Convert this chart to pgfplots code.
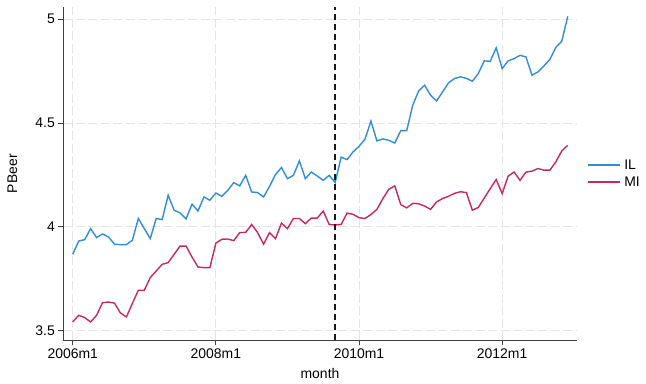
\documentclass[border=0pt]{standalone}
\usepackage{pgfplots}
\pgfplotsset{compat=1.18}
\usepackage{fontspec}
\setmainfont{Liberation Sans}
\definecolor{ilc}{RGB}{50,140,220}
\definecolor{mic}{RGB}{200,40,95}
\begin{document}
\begin{tikzpicture}
\begin{axis}[
  scale only axis, width=513.4bp, height=333.3bp,
  xmin=-1.58, xmax=84.5, ymin=3.4515, ymax=5.059,
  axis lines=left,
  axis line style={-, draw=black!75, line width=0.8bp},
  xtick={0,24,48,72}, xticklabels={2006m1,2008m1,2010m1,2012m1},
  ytick={3.5,4,4.5,5}, yticklabels={3.5,4,4.5,5},
  tick align=outside, major tick length=5bp,
  tick style={black!75, line width=0.8bp},
  grid=major,
  major grid style={dash pattern=on 9bp off 3.5bp, black!10, line width=0.8bp},
  font=\fontsize{14}{16}\selectfont,
  ticklabel style={font=\fontsize{14}{16}\selectfont},
  xlabel={month}, ylabel={PBeer},
  every axis x label/.style={at={(axis description cs:0.5,0)}, anchor=center, yshift=-33bp},
  every axis y label/.style={at={(axis description cs:-0.0993,0.5)}, anchor=center, rotate=90},
  legend style={at={(axis description cs:1.0,0.5)}, anchor=west, draw=none, fill=none,
    font=\fontsize{14}{16}\selectfont, inner sep=0pt, xshift=10bp, row sep=2bp,
    nodes={inner xsep=4bp}},
  legend cell align=left,
  legend image code/.code={\draw[#1] (0bp,0bp) -- (32bp,0bp);},
]
\addplot[ilc, line width=1.4bp] coordinates {
(0,3.866)(1,3.930)(2,3.937)(3,3.990)(4,3.947)(5,3.964)(6,3.950)(7,3.915)(8,3.913)(9,3.913)
(10,3.934)(11,4.039)(12,3.990)(13,3.942)(14,4.039)(15,4.034)(16,4.151)(17,4.079)(18,4.066)(19,4.037)
(20,4.108)(21,4.075)(22,4.143)(23,4.127)(24,4.162)(25,4.146)(26,4.175)(27,4.212)(28,4.196)(29,4.247)
(30,4.167)(31,4.164)(32,4.143)(33,4.194)(34,4.251)(35,4.285)(36,4.231)(37,4.247)(38,4.317)(39,4.231)
(40,4.263)(41,4.244)(42,4.223)(43,4.247)(44,4.212)(45,4.335)(46,4.323)(47,4.360)(48,4.387)(49,4.421)
(50,4.509)(51,4.413)(52,4.423)(53,4.416)(54,4.403)(55,4.463)(56,4.463)(57,4.585)(58,4.654)(59,4.682)
(60,4.633)(61,4.606)(62,4.649)(63,4.693)(64,4.714)(65,4.722)(66,4.715)(67,4.701)(68,4.738)(69,4.799)
(70,4.797)(71,4.862)(72,4.762)(73,4.799)(74,4.810)(75,4.826)(76,4.818)(77,4.730)(78,4.746)(79,4.775)
(80,4.806)(81,4.864)(82,4.894)(83,5.014)
};
\addlegendentry{IL}
\addplot[mic, line width=1.4bp] coordinates {
(0,3.540)(1,3.572)(2,3.561)(3,3.540)(4,3.572)(5,3.633)(6,3.636)(7,3.631)(8,3.583)(9,3.564)
(10,3.629)(11,3.693)(12,3.693)(13,3.754)(14,3.786)(15,3.818)(16,3.826)(17,3.866)(18,3.906)(19,3.906)
(20,3.853)(21,3.805)(22,3.802)(23,3.802)(24,3.920)(25,3.939)(26,3.940)(27,3.932)(28,3.971)(29,3.972)
(30,4.010)(31,3.971)(32,3.915)(33,3.971)(34,3.942)(35,4.017)(36,3.990)(37,4.039)(38,4.039)(39,4.014)
(40,4.041)(41,4.041)(42,4.075)(43,4.010)(44,4.008)(45,4.010)(46,4.065)(47,4.059)(48,4.043)(49,4.039)
(50,4.058)(51,4.083)(52,4.135)(53,4.180)(54,4.196)(55,4.106)(56,4.090)(57,4.112)(58,4.110)(59,4.099)
(60,4.083)(61,4.119)(62,4.135)(63,4.146)(64,4.160)(65,4.168)(66,4.164)(67,4.079)(68,4.092)(69,4.138)
(70,4.183)(71,4.227)(72,4.159)(73,4.243)(74,4.263)(75,4.223)(76,4.263)(77,4.267)(78,4.280)(79,4.272)
(80,4.272)(81,4.312)(82,4.365)(83,4.392)
};
\addlegendentry{MI}
\addplot[black!90, line width=1.5bp, dash pattern=on 6.5bp off 3.5bp, forget plot] coordinates {(44,3.4515) (44,5.059)};
\end{axis}
\pgfresetboundingbox
\path (-63.3bp,-43bp) rectangle (582.7bp,340.3bp);
\end{tikzpicture}
\end{document}
